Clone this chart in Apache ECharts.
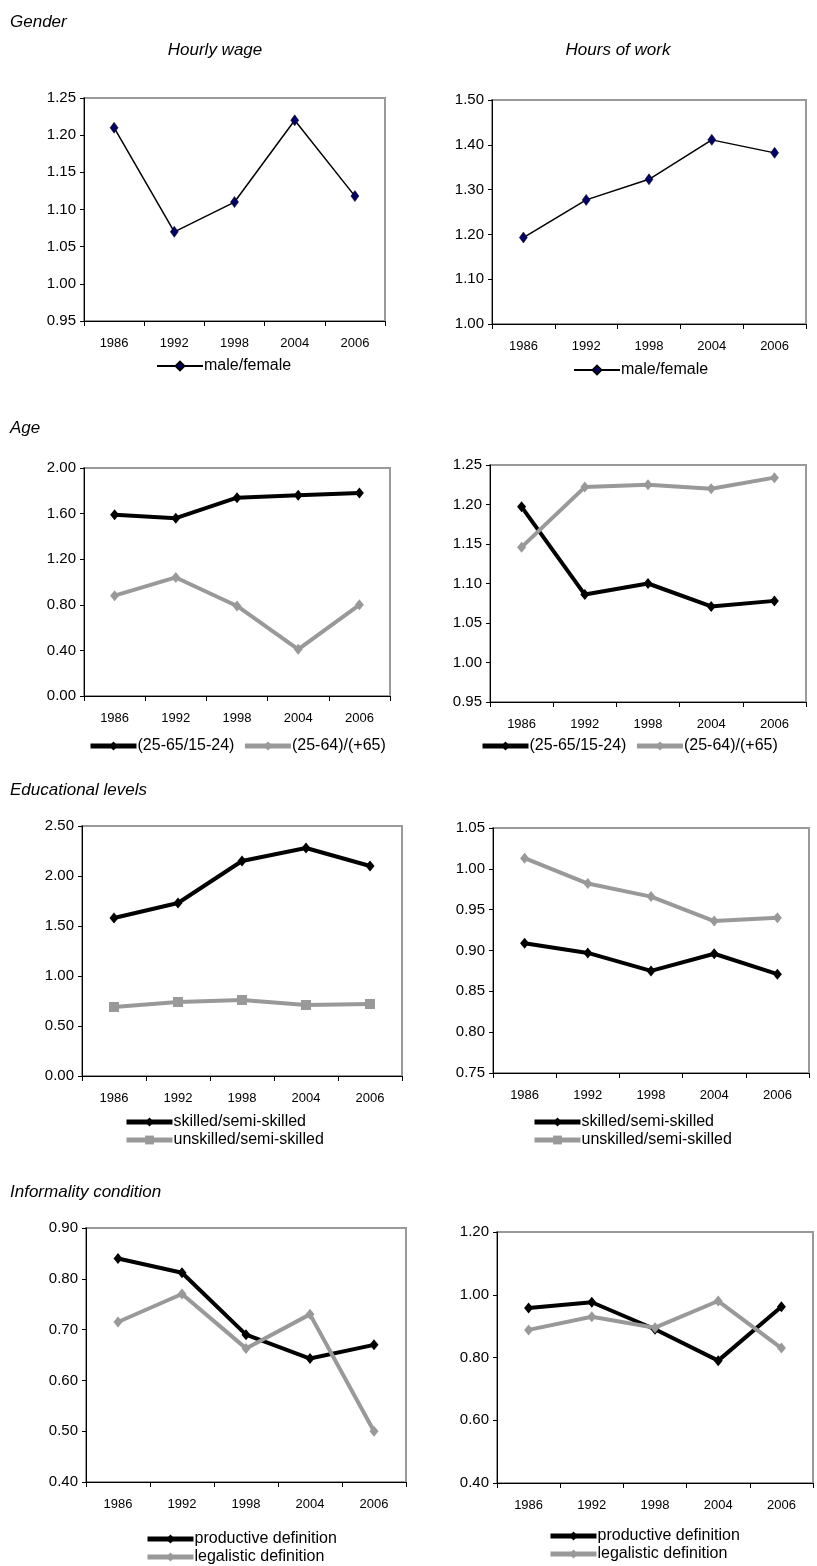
<!DOCTYPE html>
<html>
<head>
<meta charset="utf-8">
<script src="https://cdn.jsdelivr.net/npm/echarts@6/dist/echarts.min.js"></script>
<style>
  html, body { margin: 0; padding: 0; background: #fff; }
  #chart { width: 817px; height: 1566px; }
</style>
</head>
<body>
<div id="chart"></div>
<script>
// years on every x axis
var years = ['1986', '1992', '1998', '2004', '2006'];

// Gender
var wageMaleFemale = [1.21, 1.07, 1.11, 1.22, 1.118];
var hoursMaleFemale = [1.193, 1.277, 1.323, 1.411, 1.382];
// Age
var wageAgeYoung = [1.59, 1.56, 1.74, 1.76, 1.78];
var wageAgeOld = [0.88, 1.04, 0.79, 0.41, 0.80];
var hoursAgeYoung = [1.197, 1.086, 1.100, 1.071, 1.078];
var hoursAgeOld = [1.146, 1.222, 1.225, 1.220, 1.234];
// Educational levels
var wageSkilled = [1.58, 1.73, 2.15, 2.28, 2.10];
var wageUnskilled = [0.69, 0.74, 0.76, 0.71, 0.72];
var hoursSkilled = [0.909, 0.897, 0.875, 0.896, 0.871];
var hoursUnskilled = [1.013, 0.982, 0.966, 0.936, 0.940];
// Informality condition
var wageProductive = [0.84, 0.812, 0.69, 0.643, 0.67];
var wageLegalistic = [0.715, 0.77, 0.663, 0.73, 0.50];
var hoursProductive = [0.958, 0.976, 0.89, 0.79, 0.962];
var hoursLegalistic = [0.888, 0.93, 0.895, 0.98, 0.83];

var FONT = '"Liberation Sans Narrow", "Liberation Sans", Arial, sans-serif';
var BLACK = '#000', GREY = '#999';

// panel boxes: [left, top, right, bottom] in pixels, y scale [min, max, step]
var panels = [
    { box: [84, 98, 385, 321], y: [0.95, 1.25, 0.05] },
    { box: [492, 100, 806, 324], y: [1.00, 1.50, 0.10] },
    { box: [84, 468, 390, 696], y: [0.00, 2.00, 0.40] },
    { box: [490, 465, 806, 702], y: [0.95, 1.25, 0.05] },
    { box: [82, 826, 402, 1076], y: [0.00, 2.50, 0.50] },
    { box: [493, 828, 809, 1073], y: [0.75, 1.05, 0.05] },
    { box: [86, 1228, 406, 1482], y: [0.40, 0.90, 0.10] },
    { box: [497, 1232, 813, 1483], y: [0.40, 1.20, 0.20] }
];

var grids = [], xAxes = [], yAxes = [];
panels.forEach(function (p, i) {
    grids.push({
        left: p.box[0], top: p.box[1],
        width: p.box[2] - p.box[0], height: p.box[3] - p.box[1],
        show: true, borderColor: '#999', borderWidth: 2, backgroundColor: 'transparent'
    });
    xAxes.push({
        type: 'category', gridIndex: i, data: years, boundaryGap: true,
        axisLine: { lineStyle: { color: BLACK, width: 1 } },
        axisTick: { show: true, length: 5, lineStyle: { color: BLACK } },
        axisLabel: { color: BLACK, fontFamily: FONT, fontSize: 13, margin: 16 },
        splitLine: { show: false }
    });
    yAxes.push({
        type: 'value', gridIndex: i, min: p.y[0], max: p.y[1], interval: p.y[2],
        axisLine: { show: true, lineStyle: { color: BLACK, width: 1 } },
        axisTick: { show: true, length: 4, inside: false, lineStyle: { color: BLACK } },
        axisLabel: { color: BLACK, fontFamily: FONT, fontSize: 15,
            formatter: function (v) { return v.toFixed(2); } },
        splitLine: { show: false }
    });
});

function thinSeries(name, data, i) {
    return {
        name: name, type: 'line', xAxisIndex: i, yAxisIndex: i, data: data,
        symbol: 'diamond', symbolSize: [8, 11], animation: false,
        lineStyle: { color: BLACK, width: 1.5 },
        itemStyle: { color: '#000066', borderColor: '#000', borderWidth: 0.5 }
    };
}
function thickSeries(name, data, i, color, symbol) {
    return {
        name: name, type: 'line', xAxisIndex: i, yAxisIndex: i, data: data,
        symbol: symbol || 'diamond', symbolSize: symbol === 'rect' ? 10 : [9, 11], animation: false,
        lineStyle: { color: color, width: 4 },
        itemStyle: { color: color }
    };
}

var series = [
    thinSeries('male/female', wageMaleFemale, 0),
    thinSeries('male/female', hoursMaleFemale, 1),
    thickSeries('(25-65/15-24)', wageAgeYoung, 2, BLACK),
    thickSeries('(25-64)/(+65)', wageAgeOld, 2, GREY),
    thickSeries('(25-65/15-24)', hoursAgeYoung, 3, BLACK),
    thickSeries('(25-64)/(+65)', hoursAgeOld, 3, GREY),
    thickSeries('skilled/semi-skilled', wageSkilled, 4, BLACK),
    thickSeries('unskilled/semi-skilled', wageUnskilled, 4, GREY, 'rect'),
    thickSeries('skilled/semi-skilled', hoursSkilled, 5, BLACK),
    thickSeries('unskilled/semi-skilled', hoursUnskilled, 5, GREY),
    thickSeries('productive definition', wageProductive, 6, BLACK),
    thickSeries('legalistic definition', wageLegalistic, 6, GREY),
    thickSeries('productive definition', hoursProductive, 7, BLACK),
    thickSeries('legalistic definition', hoursLegalistic, 7, GREY)
];

function legend(names, left, top, orient, lineWidth) {
    return {
        data: names, left: left, top: top, orient: orient || 'horizontal',
        itemWidth: 46, itemHeight: 11, itemGap: orient === 'vertical' ? 2 : 8,
        selectedMode: false, padding: 0,
        lineStyle: { width: lineWidth || 5 },
        textStyle: { color: BLACK, fontFamily: FONT, fontSize: 16, padding: [0, 0, 0, -4] }
    };
}

var legends = [
    legend(['male/female'], 156, 358, 'horizontal', 2),
    legend(['male/female'], 573, 362, 'horizontal', 2),
    legend(['(25-65/15-24)', '(25-64)/(+65)'], 88, 738),
    legend(['(25-65/15-24)', '(25-64)/(+65)'], 480, 738),
    legend(['skilled/semi-skilled', 'unskilled/semi-skilled'], 124, 1114, 'vertical'),
    legend(['skilled/semi-skilled', 'unskilled/semi-skilled'], 532, 1114, 'vertical'),
    legend(['productive definition', 'legalistic definition'], 145, 1531, 'vertical'),
    legend(['productive definition', 'legalistic definition'], 548, 1528, 'vertical')
];

function label(text, x, y, align) {
    return { type: 'text', left: x, top: y,
        style: { text: text, fill: BLACK, font: 'italic 17px ' + FONT, textAlign: align || 'left' } };
}

var chart = echarts.init(document.getElementById('chart'));
chart.setOption({
    backgroundColor: '#fff',
    grid: grids, xAxis: xAxes, yAxis: yAxes, series: series, legend: legends,
    graphic: [
        label('Gender', 10, 14),
        { type: 'text', x: 215, y: 42, style: { text: 'Hourly wage', fill: BLACK, font: 'italic 17px ' + FONT, textAlign: 'center' } },
        { type: 'text', x: 618, y: 42, style: { text: 'Hours of work', fill: BLACK, font: 'italic 17px ' + FONT, textAlign: 'center' } },
        label('Age', 10, 420),
        label('Educational levels', 10, 782),
        label('Informality condition', 10, 1184)
    ]
});
</script>
</body>
</html>
